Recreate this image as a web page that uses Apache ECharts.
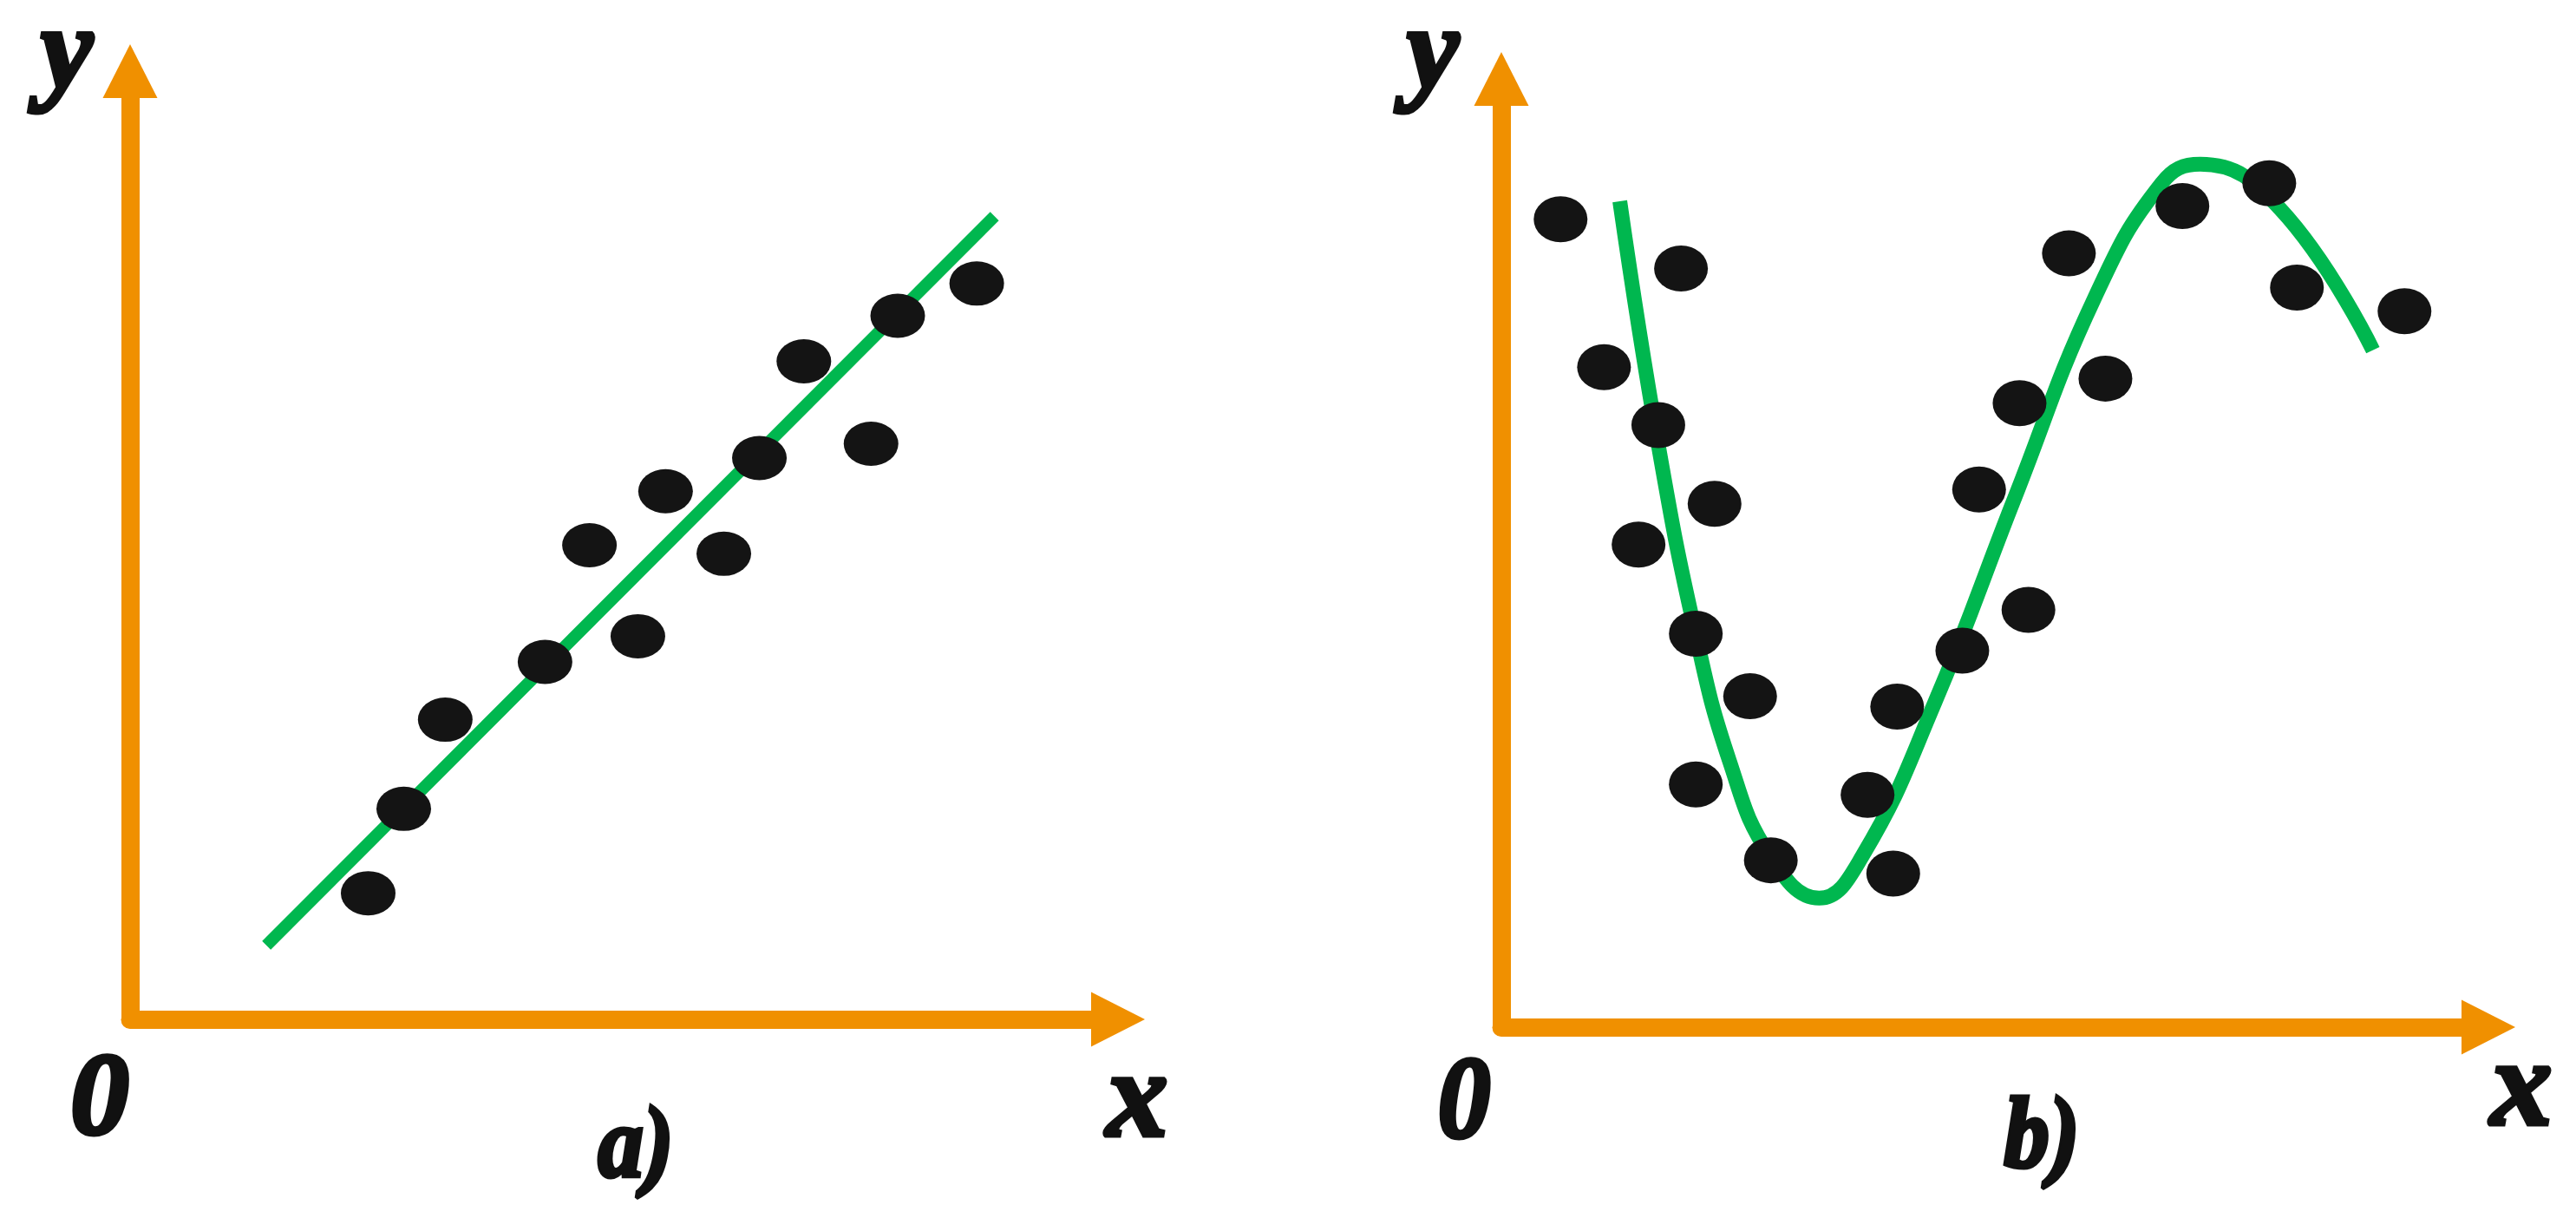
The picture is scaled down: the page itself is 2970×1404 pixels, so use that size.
<!DOCTYPE html>
<html>
<head>
<meta charset="utf-8">
<script src="https://cdn.jsdelivr.net/npm/echarts@6/dist/echarts.min.js"></script>
<style>
  html, body { margin: 0; padding: 0; background: #ffffff; }
  #chart { width: 2970px; height: 1404px; }
</style>
</head>
<body>
<div id="chart"></div>
<script>
// Panel a) – scattered points and linear fit (axis units 0..100)
const scatterA = [
  [24.1, 13.3], [27.7, 22.2], [31.9, 31.6], [42.0, 37.7], [46.5, 50.0],
  [51.4, 40.4], [54.2, 55.7], [60.1, 49.1], [63.7, 59.2], [68.2, 69.4],
  [75.0, 60.7], [77.7, 74.2], [85.7, 77.6]
];
const fitA = [[13.8, 7.8], [87.5, 84.7]];

// Panel b) – scattered points and nonlinear fitted curve (axis units 0..100)
const scatterB = [
  [6.0, 85.2], [18.2, 80.0], [10.4, 69.6], [15.9, 63.5], [21.6, 55.2],
  [13.9, 50.9], [19.7, 41.5], [25.2, 34.9], [19.7, 25.6], [27.3, 17.6],
  [37.1, 24.5], [39.7, 16.2], [40.1, 33.8], [46.7, 39.7], [53.4, 44.0],
  [48.4, 56.7], [52.5, 65.8], [61.2, 68.4], [57.5, 81.6], [69.0, 86.6],
  [77.8, 89.0], [80.6, 78.0], [91.5, 75.5]
];
const curveB = [
  [12.0, 87.1], [15.9, 61.4], [19.7, 41.4], [23.1, 28.1], [27.2, 18.1],
  [32.2, 13.6], [36.6, 18.1], [43.9, 34.2], [52.0, 55.8], [60.1, 76.9],
  [66.9, 89.0], [70.8, 91.0], [78.9, 86.3], [88.3, 71.4]
];

// Text labels
const labelsA = { y: 'y', x: 'x', origin: '0', caption: 'a)' };
const labelsB = { y: 'y', x: 'x', origin: '0', caption: 'b)' };

const ORANGE = '#F09000';
const GREEN = '#00B74F';
const DOT = '#141414';
const FAM = '"Liberation Serif", "DejaVu Serif", serif';
const FONT = 'italic bold 135px ' + FAM;
const FONT_X = 'italic bold 142px ' + FAM;
const FONT_CAP = 'italic bold 116px ' + FAM;

function axisCommon(idx) {
  return {
    type: 'value', min: 0, max: 100, gridIndex: idx,
    axisLine: {
      show: true, onZero: false,
      symbol: ['none', 'triangle'],
      symbolSize: [63, 62],
      lineStyle: { color: ORANGE, width: 21 }
    },
    axisTick: { show: false },
    axisLabel: { show: false },
    splitLine: { show: false }
  };
}

function txt(text, x, y, font, sx) {
  return {
    type: 'text', x: x, y: y, silent: true, scaleX: sx || 1,
    style: {
      text: text, font: font, fill: '#111111',
      stroke: '#111111', lineWidth: 5,
      align: 'center', verticalAlign: 'middle'
    }
  };
}

const chart = echarts.init(document.getElementById('chart'), null, { renderer: 'canvas' });
chart.setOption({
  backgroundColor: '#ffffff',
  animation: false,
  grid: [
    { left: 150, top: 82, width: 1139, height: 1093 },
    { left: 1731, top: 91, width: 1138, height: 1093 }
  ],
  xAxis: [axisCommon(0), axisCommon(1)],
  yAxis: [axisCommon(0), axisCommon(1)],
  series: [
    {
      type: 'line', xAxisIndex: 0, yAxisIndex: 0, data: fitA,
      showSymbol: false, symbol: 'none', z: 2,
      lineStyle: { color: GREEN, width: 14 }
    },
    {
      type: 'scatter', xAxisIndex: 0, yAxisIndex: 0, data: scatterA,
      symbol: 'circle', symbolSize: [63, 51], z: 3,
      itemStyle: { color: DOT, opacity: 1, borderWidth: 0 }
    },
    {
      type: 'line', xAxisIndex: 1, yAxisIndex: 1, data: curveB,
      showSymbol: false, symbol: 'none', smooth: 0.45, z: 2,
      lineStyle: { color: GREEN, width: 17, cap: 'butt', join: 'round' }
    },
    {
      type: 'scatter', xAxisIndex: 1, yAxisIndex: 1, data: scatterB,
      symbol: 'circle', symbolSize: [62, 53], z: 3,
      itemStyle: { color: DOT, opacity: 1, borderWidth: 0 }
    }
  ],
  graphic: [
    txt(labelsA.y, 77, 66, FONT),
    txt(labelsA.origin, 115, 1272, FONT),
    txt(labelsA.x, 1311, 1272, FONT_X),
    txt(labelsA.caption, 733, 1326, FONT_CAP, 0.9),
    txt(labelsB.y, 1652, 66, FONT),
    txt(labelsB.origin, 1688, 1276, FONT, 0.9),
    txt(labelsB.x, 2907, 1259, FONT_X),
    txt(labelsB.caption, 2354, 1315, FONT_CAP, 0.9)
  ]
});
</script>
</body>
</html>
